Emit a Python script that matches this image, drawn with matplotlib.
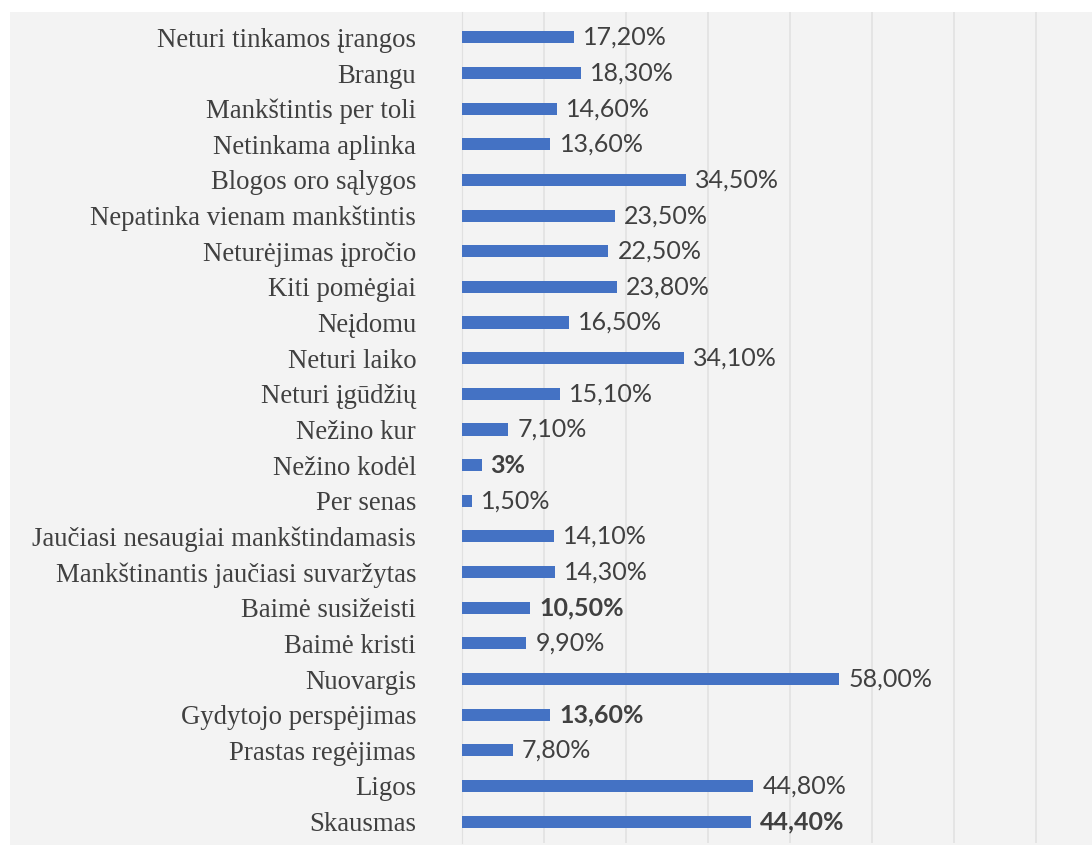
import matplotlib
matplotlib.use("Agg")
import matplotlib.pyplot as plt
from matplotlib.patches import Rectangle

# reasons for not exercising, top to bottom
categories = [
    "Neturi tinkamos įrangos",
    "Brangu",
    "Mankštintis per toli",
    "Netinkama aplinka",
    "Blogos oro sąlygos",
    "Nepatinka vienam mankštintis",
    "Neturėjimas įpročio",
    "Kiti pomėgiai",
    "Neįdomu",
    "Neturi laiko",
    "Neturi įgūdžių",
    "Nežino kur",
    "Nežino kodėl",
    "Per senas",
    "Jaučiasi nesaugiai mankštindamasis",
    "Mankštinantis jaučiasi suvaržytas",
    "Baimė susižeisti",
    "Baimė kristi",
    "Nuovargis",
    "Gydytojo perspėjimas",
    "Prastas regėjimas",
    "Ligos",
    "Skausmas",
]
values = [17.2, 18.3, 14.6, 13.6, 34.5, 23.5, 22.5, 23.8, 16.5, 34.1, 15.1, 7.1,
          3.0, 1.5, 14.1, 14.3, 10.5, 9.9, 58.0, 13.6, 7.8, 44.8, 44.4]
bold_labels = {"Nežino kodėl", "Baimė susižeisti", "Gydytojo perspėjimas", "Skausmas"}
short_labels = {"Nežino kodėl"}

W, H = 1092, 847
bg = "#f3f3f3"
bar_color = "#4472c4"
text_color = "#404040"

fig = plt.figure(figsize=(W / 100, H / 100), dpi=100)
fig.patch.set_facecolor("white")
fig.patches.append(Rectangle((10 / W, 2 / H), 1 - 10 / W, (845 - 12) / H,
                             transform=fig.transFigure, facecolor=bg,
                             edgecolor="none", zorder=-10))

ax = fig.add_axes([462 / W, 4 / H, 623 / W, 830.6 / H])
ax.set_facecolor("none")

y = range(len(categories))
ax.barh(y, values, height=0.34, color=bar_color, zorder=3)

ax.set_xlim(0, 95.8)
ax.set_ylim(22.6, -0.7)

# vertical gridlines
for gx in [12.6 * k for k in range(1, 8)]:
    ax.axvline(gx, color="#e2e2e2", lw=1.2, zorder=1)

for spine in ["top", "right", "bottom"]:
    ax.spines[spine].set_visible(False)
ax.spines["left"].set_color("#e0e0e0")
ax.tick_params(axis="x", bottom=False, labelbottom=False)
ax.tick_params(axis="y", length=0, pad=33)
ax.set_yticks(list(y))
ax.set_yticklabels(categories, fontfamily="Liberation Serif", fontsize=19.3,
                   color=text_color)

for i, (cat, v) in enumerate(zip(categories, values)):
    if cat in short_labels:
        label = f"{v:.0f}%"
    else:
        label = f"{v:.2f}".replace(".", ",") + "%"
    ax.text(v + 1.4, i, label, va="center", ha="left", fontfamily="Lato",
            fontsize=18, color=text_color,
            fontweight="bold" if cat in bold_labels else "normal", zorder=4)

fig.savefig("out.png", dpi=100, facecolor="white")
